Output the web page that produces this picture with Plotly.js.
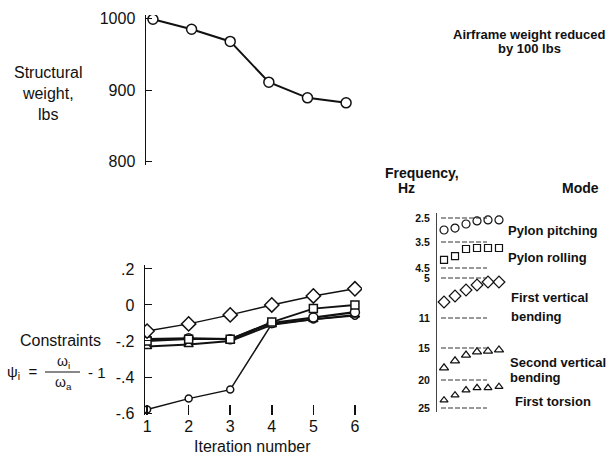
<!DOCTYPE html>
<html>
<head>
<meta charset="utf-8">
<script src="https://cdn.plot.ly/plotly-3.0.1.min.js"></script>
<style>html,body{margin:0;padding:0;background:#fff;}#chart{width:614px;height:456px;}</style>
</head>
<body>
<div id="chart"></div>
<script>
// ---- data ----
var iterations = [1, 2, 3, 4, 5, 6];
var structuralWeight = [999, 985, 968, 911, 889, 882];

var constraintDiamond = [-0.145, -0.105, -0.055, 0.0, 0.05, 0.09];
var constraintSquare = [-0.2, -0.19, -0.19, -0.095, -0.02, 0.0];
var constraintCircle = [-0.19, -0.185, -0.19, -0.10, -0.07, -0.04];
var constraintTriangle = [-0.23, -0.22, -0.2, -0.11, -0.08, -0.055];
var constraintLow = [-0.58, -0.52, -0.47, -0.105, -0.08, -0.06];
var constraintTickVals = [0.2, 0, -0.2, -0.4, -0.6];
var constraintTickText = ['.2', '0', '-.2', '-.4', '-.6'];

var freqTicks = [2.5, 3.5, 4.5, 5, 11, 15, 20, 25];
var pylonPitching = [3.0, 2.92, 2.75, 2.62, 2.58, 2.58];
var pylonRolling = [4.19, 4.04, 3.77, 3.73, 3.73, 3.73];
var firstVertical = [8.6, 7.7, 6.8, 6.05, 5.6, 5.6];
var secondVertical = [18.1, 17.0, 16.1, 15.6, 15.5, 15.3];
var firstTorsion = [23.6, 22.7, 21.8, 21.4, 21.4, 21.2];

// schematic (non-uniform) frequency scale of the original figure
var freqScalePos = [218, 242, 268, 278, 318, 348, 380, 408];
function freqToPos(f) {
  for (var i = 0; i < freqTicks.length - 1; i++) {
    if (f <= freqTicks[i + 1]) {
      var t = (f - freqTicks[i]) / (freqTicks[i + 1] - freqTicks[i]);
      return freqScalePos[i] + t * (freqScalePos[i + 1] - freqScalePos[i]);
    }
  }
  return freqScalePos[freqScalePos.length - 1];
}

var W = 614, H = 456;
function px(x) { return x / W; }
function py(y) { return 1 - y / H; }

var FONT = 'Liberation Sans, Arial, Helvetica, sans-serif';
var black = '#111';

function line(xa, ya, y, sym, size, width) {
  return {
    x: iterations, y: y, xaxis: xa, yaxis: ya, mode: 'lines+markers',
    line: {color: black, width: width},
    marker: {symbol: sym, size: size, color: '#fff', line: {color: black, width: 1.5}},
    showlegend: false, hoverinfo: 'skip'
  };
}

var traces = [
  line('x', 'y', structuralWeight, 'circle', 10, 2),
  line('x2', 'y2', constraintLow, 'circle', 7, 1.5),
  line('x2', 'y2', constraintTriangle, 'triangle-up', 8, 2),
  line('x2', 'y2', constraintCircle, 'circle', 9, 2.2),
  line('x2', 'y2', constraintSquare, 'square', 8, 1.8),
  line('x2', 'y2', constraintDiamond, 'diamond', 11, 1.5)
];

function modeTrace(vals, sym, size) {
  return {
    x: iterations, y: vals.map(freqToPos), xaxis: 'x3', yaxis: 'y3', mode: 'markers',
    marker: {symbol: sym, size: size, color: black, line: {color: black, width: 1.2}},
    showlegend: false, hoverinfo: 'skip'
  };
}
traces.push(modeTrace(pylonPitching, 'circle-open', 8));
traces.push(modeTrace(pylonRolling, 'square-open', 7));
traces.push(modeTrace(firstVertical, 'diamond-open', 9));
traces.push(modeTrace(secondVertical, 'triangle-up-open', 8));
traces.push(modeTrace(firstTorsion, 'triangle-up-open', 7));

var shapes = freqTicks.map(function (f) {
  return {type: 'line', xref: 'paper', yref: 'y3', x0: px(441), x1: px(487),
          y0: freqToPos(f), y1: freqToPos(f), line: {color: '#333', width: 1, dash: '5px,2px'}};
});
// fraction bar of the constraint definition
shapes.push({type: 'line', xref: 'paper', yref: 'paper', x0: px(45), x1: px(80),
             y0: py(372), y1: py(372), line: {color: black, width: 1}});

function ann(text, x, y, size, opts) {
  var a = {text: text, xref: 'paper', yref: 'paper', x: px(x), y: py(y), showarrow: false,
           xanchor: 'center', yanchor: 'middle',
           font: {family: FONT, size: size, color: black}};
  for (var k in (opts || {})) a[k] = opts[k];
  return a;
}

var annotations = [
  ann('Structural<br>weight,<br>lbs', 48, 94, 16),
  ann('Constraints', 60, 340, 16),
  ann('ψ<sub>i</sub>  =', 22, 372, 15),
  ann('ω<sub>i</sub>', 63, 362, 14),
  ann('ω<sub>a</sub>', 63, 383, 14),
  ann('- 1', 97, 372, 15),
  ann('Iteration number', 252, 446, 16),
  ann('<b>Airframe weight reduced</b>', 529, 35, 13),
  ann('<b>by 100 lbs</b>', 529, 49, 13),
  ann('<b>Frequency,</b>', 422, 173, 14),
  ann('<b>Hz</b>', 406, 188, 14),
  ann('<b>Mode</b>', 580, 188, 14),
  ann('<b>Pylon pitching</b>', 506, 231, 13, {xanchor: 'left'}),
  ann('<b>Pylon rolling</b>', 506, 257, 13, {xanchor: 'left'}),
  ann('<b>First vertical</b>', 509, 297, 13, {xanchor: 'left'}),
  ann('<b>bending</b>', 509, 316, 13, {xanchor: 'left'}),
  ann('<b>Second vertical</b>', 508, 362, 13, {xanchor: 'left'}),
  ann('<b>bending</b>', 508, 377, 13, {xanchor: 'left'}),
  ann('<b>First torsion</b>', 513, 401, 13, {xanchor: 'left'})
];

var layout = {
  width: W, height: H, margin: {l: 0, r: 0, t: 0, b: 0},
  paper_bgcolor: '#fff', plot_bgcolor: 'rgba(0,0,0,0)',
  font: {family: FONT, color: black},
  showlegend: false,
  xaxis: {domain: [px(146), px(360)], range: [0.82, 6.36], visible: false, fixedrange: true},
  yaxis: {domain: [py(165), py(15)], range: [795, 1005], showgrid: false, zeroline: false,
          showline: true, linecolor: black, linewidth: 1.5, ticks: 'inside', ticklen: 6,
          tickcolor: black, tickvals: [800, 900, 1000], tickfont: {size: 16, family: FONT, color: black},
          ticklabelstandoff: 6},
  xaxis2: {anchor: 'y2', domain: [px(145), px(362)], range: [0.95, 6.17], showgrid: false, zeroline: false,
           showline: false, ticks: 'inside', ticklen: 10, tickwidth: 1.5, tickcolor: black,
           tickvals: iterations, tickfont: {size: 16, family: FONT, color: black}},
  yaxis2: {anchor: 'x2', domain: [py(415), py(265)], range: [-0.611, 0.222], showgrid: false, zeroline: false,
           showline: true, linecolor: black, linewidth: 1.5, ticks: 'inside', ticklen: 7, tickcolor: black,
           tickvals: constraintTickVals, ticktext: constraintTickText,
           tickfont: {size: 16, family: FONT, color: black}, ticklabelstandoff: 6},
  xaxis3: {anchor: 'y3', domain: [px(437), px(508)], range: [0.36, 6.82], visible: false},
  yaxis3: {anchor: 'x3', domain: [py(412), py(213)], range: [412, 213], showgrid: false, zeroline: false,
           showline: true, linecolor: '#444', linewidth: 1, ticks: '',
           tickvals: freqTicks.map(freqToPos), ticktext: freqTicks.map(String),
           tickfont: {size: 10.5, family: FONT, color: black, weight: 'bold'}, ticklabelstandoff: 4},
  shapes: shapes,
  annotations: annotations
};

Plotly.newPlot('chart', traces, layout, {staticPlot: true, displayModeBar: false});
</script>
</body>
</html>
